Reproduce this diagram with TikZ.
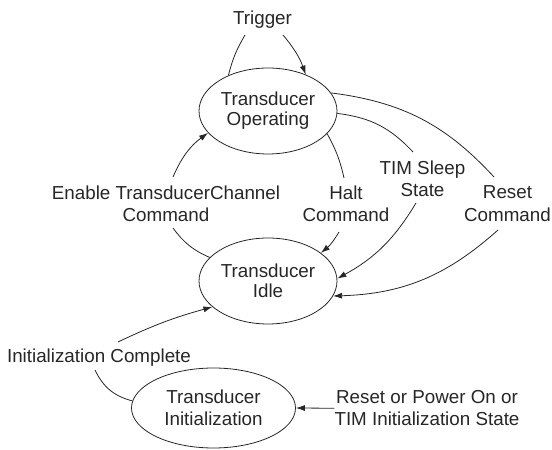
\documentclass[tikz,border=0pt]{standalone}
\usepackage{fontspec}
\setmainfont{Liberation Sans}
\usetikzlibrary{arrows.meta,shapes.geometric}
\begin{document}
\begin{tikzpicture}[x=1pt,y=1pt,
  state/.style={draw=black!85,line width=0.8pt,ellipse,inner sep=0pt,
    align=center,text=black!85,font=\fontsize{18.8}{20}\selectfont},
  lab/.style={inner sep=0pt,align=center,text=black!85,
    font=\fontsize{18.8}{22.5}\selectfont},
  conn/.style={draw=black!85,line width=0.8pt},
  arr/.style={conn,-{Latex[length=9pt,width=6pt]}}]
\useasboundingbox (0,0) rectangle (552,450);
% states
\node[state,minimum width=138pt,minimum height=86pt] (op) at (268,339) {Transducer\\Operating};
\node[state,minimum width=138pt,minimum height=86pt] (idle) at (268,169) {Transducer\\Idle};
\node[state,minimum width=164pt,minimum height=80pt,font=\fontsize{18.8}{22}\selectfont] (init) at (213.5,42) {Transducer\\Initialization};
% labels
\node[lab,anchor=base] (trig) at (262.5,425) {Trigger};
\node[lab] (enable) at (166,246.3) {Enable TransducerChannel\\Command};
\node[lab] (halt) at (346,246.3) {Halt\\Command};
\node[lab] (tim) at (422.5,271) {TIM Sleep\\State};
\node[lab] (reset) at (507.5,246.3) {Reset\\Command};
\node[lab,anchor=base] (initc) at (99,87) {Initialization Complete};
\node[lab] (rpo) at (427,41.75) {Reset or Power On or\\TIM Initialization State};
% trigger loop
\draw[conn] (op.138) to[bend left=8] ([shift={(-17.5,-10)}]trig.base);
\draw[arr] ([shift={(20.5,-10)}]trig.base) to[bend left=10] (op.44);
% enable
\draw[conn] (idle.158) to[bend left=15] ([shift={(7,-24.3)}]enable.center);
\draw[arr] ([shift={(7,26.7)}]enable.center) to[bend left=15] (op.200);
% halt
\draw[conn] (op.-21) to[bend left=8] ([shift={(-2,25.7)}]halt.center);
\draw[arr] ([shift={(-7,-28.3)}]halt.center) to[bend left=10] (idle.28);
% TIM sleep
\draw[conn] (op.-2) to[bend left=20] ([shift={(-9.5,27)}]tim.center);
\draw[arr] ([shift={(-6.5,-24)}]tim.center) to[bend left=15] (idle.2);
% reset
\draw[conn] (op.16) to[bend left=20] ([shift={(-13.5,26.7)}]reset.center);
\draw[arr] ([shift={(-9.5,-26.3)}]reset.center) to[bend left=20] (idle.-13);
% initialization complete
\draw[conn] (init.175) to[bend left=25] ([shift={(-4,-7)}]initc.base);
\draw[arr] ([shift={(19,21)}]initc.base) to[bend left=5] (idle.205);
% reset or power on
\draw[arr] (rpo.west) -- (init.east);
\end{tikzpicture}
\end{document}
